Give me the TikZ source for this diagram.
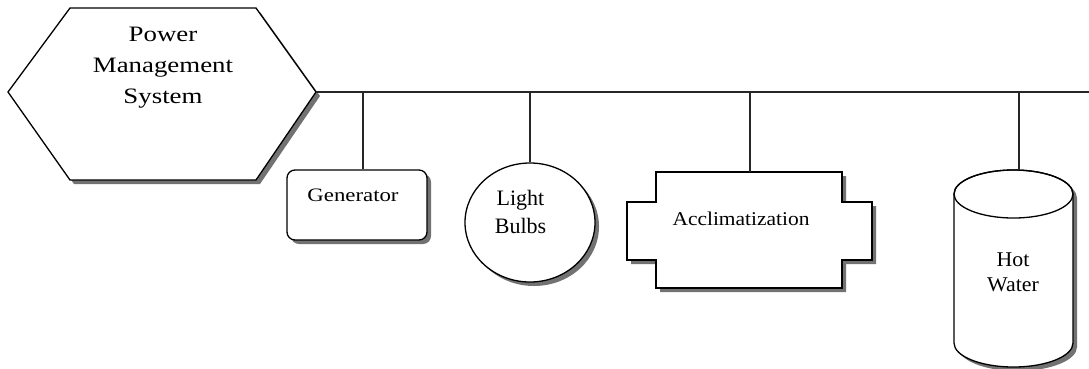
\documentclass[tikz,border=0pt]{standalone}
\usepackage{fontspec}
\setmainfont{Liberation Serif}
\newfontfamily\fA[FakeStretch=1.22]{Liberation Serif}
\newfontfamily\fB[FakeStretch=1.2]{Liberation Serif}
\newfontfamily\fC[FakeStretch=1.1]{Liberation Serif}
\newfontfamily\fD[FakeStretch=1.04]{Liberation Serif}
\usetikzlibrary{shadows,shapes.geometric}
\tikzset{
  shp/.style={draw=black, line width=1.3pt, fill=white,
    drop shadow={shadow xshift=4pt, shadow yshift=-4pt, fill=black!65, opacity=0.85}},
  wire/.style={line width=1.2pt, draw=black!85},
  lbl/.style={align=center, inner sep=0pt},
}
\begin{document}
\begin{tikzpicture}[x=1pt,y=-1pt]
\useasboundingbox (0,0) rectangle (1089,368);
% hexagon
\path[shp] (8,92) -- (70,8) -- (256,8) -- (316,92) -- (256,180) -- (70,180) -- cycle;
\coordinate (pmsR) at (316,92);
\node[lbl, font=\fA\fontsize{22}{31}\selectfont] (pms) at (163,68) {Power\\Management\\System};
% generator
\node[shp, rounded corners=8pt, minimum width=140, minimum height=70, inner sep=0pt] (gen) at (357,205) {};
\node[lbl, font=\fB\fontsize{19}{24}\selectfont, anchor=base] (gent) at (353,201) {Generator};
% light bulbs
\node[shp, ellipse, minimum width=130, minimum height=119, inner sep=0pt] (lb) at (530,222.5) {};
\node[lbl, font=\fontsize{22}{28}\selectfont] (lbt) at (520.5,211.5) {Light\\Bulbs};
% acclimatization
\path[shp] (656,172) -- (842,172) -- (842,202) -- (872,202) -- (872,260) -- (842,260) -- (842,288) -- (656,288) -- (656,260) -- (627,260) -- (627,202) -- (656,202) -- cycle;
\coordinate (aclN) at (750,172);
\node[lbl, font=\fC\fontsize{19.5}{24}\selectfont, anchor=base] (aclt) at (741,225) {Acclimatization};
% hot water cylinder
\path[shp] (954,194) -- (954,343) arc[start angle=180, end angle=0, x radius=59.5, y radius=24] -- (1073,194) arc[start angle=0, end angle=-180, x radius=59.5, y radius=24] -- cycle;
\draw[line width=1.3pt] (1013.5,194) ellipse[x radius=59.5, y radius=24];
\coordinate (hwN) at (1019,170);
\node[lbl, font=\fD\fontsize{21}{25}\selectfont] (hwt) at (1013,272.5) {Hot\\Water};
% bus
\coordinate (busE) at (1089,92);
\coordinate (b1) at (363,92);
\coordinate (b2) at (530,92);
\coordinate (b3) at (750,92);
\coordinate (b4) at (1019,92);
\draw[wire] (pmsR) -- (busE);
\draw[wire] (b1) -- (b1 |- gen.north);
\draw[wire] (b2) -- (lb.north);
\draw[wire] (b3) -- (aclN);
\draw[wire] (b4) -- (hwN);
\end{tikzpicture}
\end{document}
